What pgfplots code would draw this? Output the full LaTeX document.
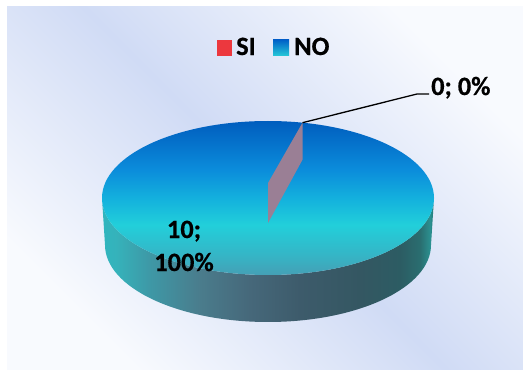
\documentclass[border=0pt]{standalone}
\usepackage{pgfplots}
\pgfplotsset{compat=1.18}
\usepackage{pgfplotstable}
\usepackage{fontspec}
\setmainfont{Carlito}[BoldFeatures={FakeBold=0.6}]

\definecolor{bgBlue}{HTML}{D0DBF5}
\definecolor{bgWhite}{HTML}{F8FAFE}
\definecolor{siRed}{HTML}{EC383E}
\definecolor{noTop}{HTML}{0062C8}
\definecolor{noBot}{HTML}{26CAD8}
\definecolor{wallc}{HTML}{9A7F95}
\definecolor{t1}{HTML}{005DBE}
\definecolor{t2}{HTML}{0B8CDB}
\definecolor{t3}{HTML}{14B2DD}
\definecolor{t4}{HTML}{22CFDA}
\definecolor{t5}{HTML}{35B5C6}
\definecolor{t6}{HTML}{45A0B5}
\definecolor{s1}{HTML}{2FB5BE}
\definecolor{s2}{HTML}{35B3BB}
\definecolor{s3}{HTML}{3E98A6}
\definecolor{s4}{HTML}{4A7C8C}
\definecolor{s5}{HTML}{46687A}
\definecolor{s6}{HTML}{3D5B6B}
\definecolor{s7}{HTML}{345762}
\definecolor{s8}{HTML}{2C5C63}
\definecolor{s9}{HTML}{2A6E70}
\definecolor{s10}{HTML}{2B9090}
\definecolor{s11}{HTML}{1F7777}

\pgfdeclareverticalshading{pietop}{100bp}{color(0bp)=(t6); color(25bp)=(t6); color(31.5bp)=(t5); color(41.3bp)=(t4); color(49.5bp)=(t3); color(59.3bp)=(t2); color(75bp)=(t1); color(100bp)=(t1)}
\pgfdeclarehorizontalshading{pieside}{100bp}{color(0bp)=(s1); color(25bp)=(s1); color(27bp)=(s2); color(32.2bp)=(s3); color(39.8bp)=(s4); color(47.3bp)=(s5); color(54.8bp)=(s6); color(63.9bp)=(s7); color(69.9bp)=(s8); color(72.9bp)=(s9); color(74.4bp)=(s10); color(75bp)=(s11); color(100bp)=(s11)}

\pgfplotstableread{
label value
SI 0
NO 10
}\piedata

\newcommand\lblfont{\fontsize{26.5}{31}\selectfont\bfseries}

\begin{document}
\begin{tikzpicture}[x=1bp,y=1bp]
\pgfplotstablegetelem{0}{value}\of\piedata \let\vSI\pgfplotsretval
\pgfplotstablegetelem{1}{value}\of\piedata \let\vNO\pgfplotsretval
\pgfmathsetmacro{\wallang}{78-360*\vSI/(\vSI+\vNO)}
\pgfmathsetmacro{\wx}{268+166*cos(\wallang)}
\pgfmathsetmacro{\wy}{172+77*sin(\wallang)}
\pgfmathsetmacro{\wyb}{\wy-37}
\begin{axis}[
  width=523bp, height=370bp, scale only axis,
  xmin=0, xmax=523, ymin=0, ymax=370,
  hide axis, clip=false,
]
\fill[white] (0,0) rectangle (523,370);
\shade[top color=bgWhite, bottom color=bgWhite, middle color=bgBlue, shading angle=-45] (7,0) rectangle (523,363);
% side of the pie
\shade[shading=pieside] (102,172) -- (105,125) arc[start angle=180,end angle=360,x radius=163,y radius=77] -- (434,172) arc[start angle=0,end angle=-180,x radius=166,y radius=77] -- cycle;
% top face
\shade[shading=pietop] (268,172) ellipse[x radius=166,y radius=77];
% zero slice wall
\fill[wallc] (268,187) -- (\wx,\wy) -- (\wx,\wyb) -- (268,147) -- cycle;
% leader line
\draw[black, line width=1.3bp] (\wx,\wy) -- (417,276) -- (429,276);
% labels
\node[font=\lblfont, anchor=base west, inner sep=0pt] at (431,275) {0; 0\%};
\node[font=\lblfont, anchor=base, inner sep=0pt] at (184,132) {10;};
\node[font=\lblfont, anchor=base, inner sep=0pt] at (184,99) {100\%};
% legend
\fill[siRed] (217,314) rectangle (232,330);
\node[font=\lblfont, anchor=base west, inner sep=0pt] at (236,315) {SI};
\shade[top color=noTop, bottom color=noBot] (273,314) rectangle (289,330);
\node[font=\lblfont, anchor=base west, inner sep=0pt] at (294,315) {NO};
\end{axis}
\end{tikzpicture}
\end{document}
